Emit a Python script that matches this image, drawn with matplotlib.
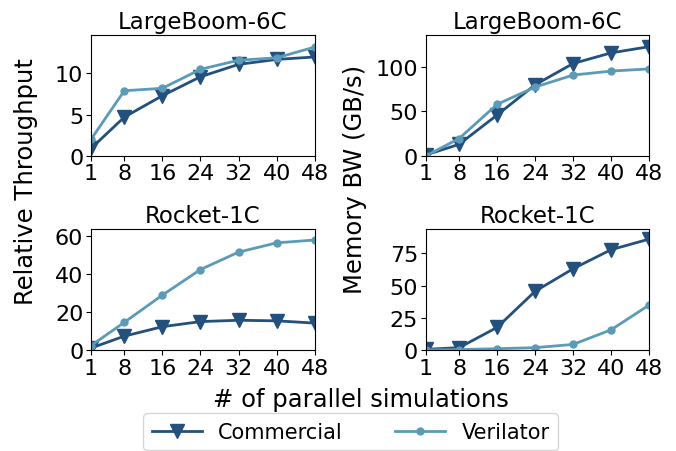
import matplotlib
matplotlib.use('Agg')
import matplotlib.pyplot as plt

x = [1, 8, 16, 24, 32, 40, 48]
xticks = [1, 8, 16, 24, 32, 40, 48]

# relative throughput
boom_thr_commercial = [0.9, 4.7, 7.3, 9.6, 11.1, 11.7, 12.0]
boom_thr_verilator = [2.0, 7.9, 8.2, 10.5, 11.6, 11.9, 13.2]
rocket_thr_commercial = [1.0, 7.3, 12.3, 15.0, 15.7, 15.4, 14.2]
rocket_thr_verilator = [2.3, 14.6, 29.0, 42.5, 51.7, 56.6, 58.1]

# memory bandwidth (GB/s)
boom_bw_commercial = [1.0, 13.0, 46.0, 80.0, 104.0, 116.0, 123.0]
boom_bw_verilator = [0.0, 19.5, 58.0, 77.5, 91.0, 95.5, 98.0]
rocket_bw_commercial = [0.5, 1.8, 17.5, 45.5, 63.0, 77.8, 86.0]
rocket_bw_verilator = [0.0, 0.3, 1.0, 1.8, 4.3, 15.6, 34.8]

dark = '#23507c'
light = '#5b9bb7'

fig = plt.figure(figsize=(6.76, 4.52), dpi=100)
ax1 = fig.add_axes([0.1346, 0.653, 0.331, 0.268])
ax2 = fig.add_axes([0.630, 0.653, 0.330, 0.268])
ax3 = fig.add_axes([0.1346, 0.2235, 0.331, 0.268])
ax4 = fig.add_axes([0.630, 0.2235, 0.330, 0.268])

panels = [
    (ax1, boom_thr_commercial, boom_thr_verilator, 'LargeBoom-6C', 14.7, [0, 5, 10]),
    (ax2, boom_bw_commercial, boom_bw_verilator, 'LargeBoom-6C', 136.5, [0, 50, 100]),
    (ax3, rocket_thr_commercial, rocket_thr_verilator, 'Rocket-1C', 64, [0, 20, 40, 60]),
    (ax4, rocket_bw_commercial, rocket_bw_verilator, 'Rocket-1C', 94, [0, 25, 50, 75]),
]

for ax, com, ver, title, top, yt in panels:
    ax.plot(x, com, color=dark, marker='v', markersize=10, linewidth=2, label='Commercial')
    ax.plot(x, ver, color=light, marker='o', markersize=5, linewidth=2, label='Verilator')
    ax.set_xlim(1, 48)
    ax.set_ylim(0, top)
    ax.set_xticks(xticks)
    ax.set_yticks(yt)
    ax.set_title(title, fontsize=16.5, pad=5)
    ax.tick_params(labelsize=16, pad=2)

fig.text(0.039, 0.598, 'Relative Throughput', rotation=90, ha='center', va='center', fontsize=17.5)
fig.text(0.525, 0.604, 'Memory BW (GB/s)', rotation=90, ha='center', va='center', fontsize=17.5)
fig.text(0.534, 0.115, '# of parallel simulations', ha='center', va='center', fontsize=17.5)

handles, labels = ax1.get_legend_handles_labels()
fig.legend(handles, labels, loc='upper center', bbox_to_anchor=(0.519, 0.083),
           borderaxespad=0, ncol=2, fontsize=15, columnspacing=2.5, handlelength=2.4)

fig.savefig('out.png', dpi=100)
